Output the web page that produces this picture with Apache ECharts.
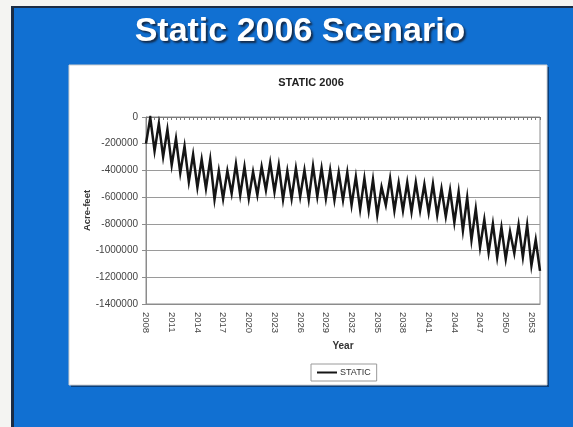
<!DOCTYPE html>
<html>
<head>
<meta charset="utf-8">
<script src="https://cdn.jsdelivr.net/npm/echarts@6/dist/echarts.min.js"></script>
<style>
  html, body { margin: 0; padding: 0; background: #ffffff; }
  #chart { width: 573px; height: 427px; }
</style>
</head>
<body>
<div id="chart"></div>
<script>
// Simulation years (two storage readings per year, last year has one)
const years = [
  2008, 2009, 2010, 2011, 2012, 2013, 2014, 2015, 2016, 2017,
  2018, 2019, 2020, 2021, 2022, 2023, 2024, 2025, 2026, 2027,
  2028, 2029, 2030, 2031, 2032, 2033, 2034, 2035, 2036, 2037,
  2038, 2039, 2040, 2041, 2042, 2043, 2044, 2045, 2046, 2047,
  2048, 2049, 2050, 2051, 2052, 2053, 2054
];

// STATIC scenario storage change (acre-feet): low, high for each year
const staticValues = [
  -199000, -5000,     // 2008
  -254000, -50000,    // 2009
  -298000, -94000,    // 2010
  -360000, -161000,   // 2011
  -418000, -219000,   // 2012
  -485000, -281000,   // 2013
  -527000, -318000,   // 2014
  -535000, -318000,   // 2015
  -617000, -403000,   // 2016
  -612000, -403000,   // 2017
  -572000, -353000,   // 2018
  -584000, -373000,   // 2019
  -609000, -410000,   // 2020
  -584000, -373000,   // 2021
  -547000, -343000,   // 2022
  -560000, -360000,   // 2023
  -617000, -405000,   // 2024
  -610000, -385000,   // 2025
  -596000, -398000,   // 2026
  -617000, -368000,   // 2027
  -596000, -385000,   // 2028
  -609000, -398000,   // 2029
  -622000, -415000,   // 2030
  -622000, -415000,   // 2031
  -660000, -448000,   // 2032
  -692000, -460000,   // 2033
  -700000, -470000,   // 2034
  -734000, -525000,   // 2035
  -660000, -460000,   // 2036
  -700000, -493000,   // 2037
  -700000, -490000,   // 2038
  -710000, -490000,   // 2039
  -700000, -505000,   // 2040
  -715000, -502000,   // 2041
  -735000, -537000,   // 2042
  -745000, -547000,   // 2043
  -790000, -560000,   // 2044
  -850000, -603000,   // 2045
  -920000, -688000,   // 2046
  -975000, -768000,   // 2047
  -1015000, -800000,  // 2048
  -1050000, -827000,  // 2049
  -1062000, -858000,  // 2050
  -1020000, -808000,  // 2051
  -1048000, -808000,  // 2052
  -1112000, -920000,  // 2053
  -1152000            // 2054
];

// Category labels: each year appears for both of its readings
const categories = [];
years.forEach(function (y, i) {
  categories.push(String(y));
  if (i < years.length - 1) categories.push(String(y));
});

const yTicks = { min: -1400000, max: 0, step: 200000 };

const chart = echarts.init(document.getElementById('chart'), null, { renderer: 'canvas' });

chart.setOption({
  backgroundColor: '#1170d2',
  animation: false,
  graphic: [
    // light strip along top and left slide edges
    { type: 'rect', shape: { x: 0, y: 0, width: 573, height: 6 }, style: { fill: '#f4f4f2' }, z: -20 },
    { type: 'rect', shape: { x: 0, y: 0, width: 11, height: 427 }, style: { fill: '#f4f4f2' }, z: -20 },
    // dark slide border
    { type: 'rect', shape: { x: 11, y: 6, width: 562, height: 2 }, style: { fill: '#1b2c44' }, z: -19 },
    { type: 'rect', shape: { x: 11, y: 6, width: 3, height: 421 }, style: { fill: '#1b2c44' }, z: -19 },
    // chart panel with a slight drop shadow
    { type: 'rect', shape: { x: 71, y: 67, width: 478, height: 320 }, style: { fill: '#0b3f7a' }, z: -18 },
    { type: 'rect', shape: { x: 69, y: 65, width: 478, height: 320 }, style: { fill: '#ffffff', stroke: '#d0d0d0', lineWidth: 1 }, z: -17 }
  ],
  title: [
    {
      text: 'Static 2006 Scenario',
      left: 300,
      top: 15,
      textAlign: 'center',
      padding: 0,
      textStyle: {
        fontFamily: 'Liberation Sans, Arial, sans-serif',
        fontWeight: 'bold',
        fontSize: 34,
        color: '#ffffff',
        textShadowColor: 'rgba(20,30,50,0.85)',
        textShadowBlur: 2,
        textShadowOffsetX: 2,
        textShadowOffsetY: 2
      }
    },
    {
      text: 'STATIC 2006',
      left: 311,
      top: 77,
      textAlign: 'center',
      padding: 0,
      textStyle: {
        fontFamily: 'Liberation Sans, Arial, sans-serif',
        fontWeight: 'bold',
        fontSize: 11,
        color: '#222222'
      }
    }
  ],
  legend: {
    data: ['STATIC'],
    left: 311,
    top: 364,
    padding: [4, 6, 4, 6],
    borderColor: '#9a9a9a',
    borderWidth: 1,
    backgroundColor: '#ffffff',
    icon: 'rect',
    itemWidth: 20,
    itemHeight: 2,
    itemGap: 4,
    textStyle: {
      fontFamily: 'Liberation Sans, Arial, sans-serif',
      fontSize: 9,
      color: '#333333',
      padding: [0, 0, 0, -2]
    }
  },
  grid: {
    left: 146,
    right: 33,
    top: 117,
    bottom: 123,
    containLabel: false,
    show: true,
    borderColor: '#8c8c8c',
    borderWidth: 1,
    backgroundColor: 'transparent'
  },
  xAxis: [
    {
      type: 'category',
      position: 'bottom',
      data: categories,
      boundaryGap: false,
      name: 'Year',
      nameLocation: 'middle',
      nameGap: 37,
      nameMoveOverlap: false,
      nameTextStyle: {
        fontFamily: 'Liberation Sans, Arial, sans-serif',
        fontWeight: 'bold',
        fontSize: 10,
        color: '#333333'
      },
      axisLine: { show: true, onZero: false, lineStyle: { color: '#8c8c8c', width: 1 } },
      axisTick: { show: false },
      axisLabel: {
        interval: 5,
        rotate: -90,
        margin: 8,
        fontFamily: 'Liberation Sans, Arial, sans-serif',
        fontSize: 9.5,
        color: '#444444'
      },
      splitLine: { show: false }
    },
    {
      type: 'category',
      position: 'top',
      data: categories,
      boundaryGap: false,
      axisLine: { show: true, onZero: false, lineStyle: { color: '#7a7a7a', width: 1 } },
      axisTick: { show: true, interval: 0, inside: true, length: 3, lineStyle: { color: '#7a7a7a' } },
      axisLabel: { show: false },
      splitLine: { show: false }
    }
  ],
  yAxis: {
    type: 'value',
    min: yTicks.min,
    max: yTicks.max,
    interval: yTicks.step,
    name: 'Acre-feet',
    nameLocation: 'middle',
    nameGap: 54,
    nameMoveOverlap: false,
    nameTextStyle: {
      fontFamily: 'Liberation Sans, Arial, sans-serif',
      fontWeight: 'bold',
      fontSize: 9.5,
      color: '#333333'
    },
    axisLine: { show: true, lineStyle: { color: '#8c8c8c' } },
    axisTick: { show: true, length: 4, lineStyle: { color: '#8c8c8c' } },
    axisLabel: {
      margin: 8,
      fontFamily: 'Liberation Sans, Arial, sans-serif',
      fontSize: 10,
      color: '#444444',
      formatter: function (v) { return String(v); }
    },
    splitLine: { show: true, lineStyle: { color: '#9a9a9a', width: 1 } }
  },
  series: [
    {
      name: 'STATIC',
      type: 'line',
      xAxisIndex: 0,
      data: staticValues,
      symbol: 'none',
      lineStyle: { color: '#151515', width: 2.5, join: 'miter' },
      itemStyle: { color: '#151515' }
    }
  ]
});
</script>
</body>
</html>
